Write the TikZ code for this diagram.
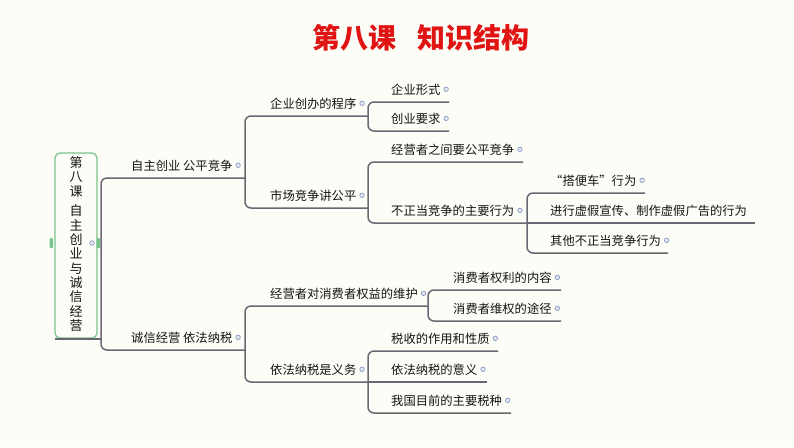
\documentclass[tikz,border=0pt]{standalone}
\usepackage{fontspec}
\setmainfont{Noto Sans CJK SC}
\usetikzlibrary{calc}
\definecolor{bg}{RGB}{253,253,247}
\definecolor{ln}{RGB}{104,104,116}
\definecolor{tx}{RGB}{20,20,20}
\definecolor{ttl}{RGB}{225,20,20}
\definecolor{grn}{RGB}{120,196,140}
\definecolor{cir}{RGB}{130,145,190}
\definecolor{cirf}{RGB}{225,230,242}
\tikzset{
  conn/.style={draw=ln, line width=1.5pt, rounded corners=6pt},
  tp/.style={anchor=base west, inner sep=0pt, text=tx, font=\fontsize{12.3}{14}\selectfont},
  dot/.style={label={[circle, draw=cir, fill=cirf, line width=0.6pt, inner sep=0pt, minimum size=4.5pt, label distance=3pt]right:{}}},
}
\newcommand{\topic}[6][]{%
  \node[tp,#1] (#2) at (#3,#4-8) {#6};
  \coordinate (#2r) at (#5,#4);
}
\begin{document}
\begin{tikzpicture}[x=1pt,y=-1pt]
\fill[bg] (0,0) rectangle (794,447);
\useasboundingbox (0,0) rectangle (794,447);

\node[font=\fontsize{28}{32}\selectfont\bfseries, text=ttl, inner sep=0pt] (title) at (421,38) {第八课\hspace{0.75em}知识结构};

% root
\draw[grn, line width=1.2pt, rounded corners=5pt, fill=bg] (55,153) rectangle (97,338);
\node[align=center, inner sep=0pt, text=tx, font=\fontsize{13}{14.3}\selectfont] (root) at (76,244)
  {第\\八\\课\\[5.5pt]自\\主\\创\\业\\与\\诚\\信\\经\\营};
\coordinate (rootr) at (101,339);
\draw[ln, line width=1.5pt] (55,339) -- (rootr);
\fill[grn, rounded corners=1pt] (49.5,238) rectangle (53,248);
\fill[grn, rounded corners=1pt] (96.5,238) rectangle (100,248);
\draw[cir, fill=cirf, line width=0.6pt] (92,243) circle (2.3pt);

% level 1
\topic[dot]{A}{131}{178}{245}{自主创业 公平竞争}
\topic[dot]{B}{131}{350}{245}{诚信经营 依法纳税}
% level 2
\topic[dot]{A1}{270}{116}{368}{企业创办的程序}
\topic[dot]{A2}{270}{208}{368}{市场竞争讲公平}
\topic[dot]{B1}{270}{306}{428}{经营者对消费者权益的维护}
\topic[dot]{B2}{270}{382}{368}{依法纳税是义务}
% level 3
\topic[dot]{A11}{391}{102}{449}{企业形式}
\topic[dot]{A12}{391}{131}{449}{创业要求}
\topic[dot]{A21}{391}{162}{523}{经营者之间要公平竞争}
\topic[dot]{A22}{391}{223}{527}{不正当竞争的主要行为}
\topic[dot]{A221}{550}{193}{645}{“搭便车”行为}
\topic{A222}{550}{223}{755}{进行虚假宣传、制作虚假广告的行为}
\topic[dot]{A223}{550}{253}{668}{其他不正当竞争行为}
\topic[dot]{B11}{453}{290}{561}{消费者权利的内容}
\topic[dot]{B12}{453}{321}{561}{消费者维权的途径}
\topic[dot]{B21}{391}{351}{498}{税收的作用和性质}
\topic[dot]{B22}{391}{382}{487}{依法纳税的意义}
\topic[dot]{B23}{391}{413}{511}{我国目前的主要税种}

% connectors
\draw[conn] (Ar) -- (Ar -| rootr) -- (Br -| rootr) -- (Br);
\draw[conn] (A1r) -- (A1r -| Ar) -- (A2r -| Ar) -- (A2r);
\draw[conn] (B1r) -- (B1r -| Br) -- (B2r -| Br) -- (B2r);
\draw[conn] (A11r) -- (A11r -| A1r) -- (A12r -| A1r) -- (A12r);
\draw[conn] (A21r) -- (A21r -| A2r) -- (A22r -| A2r) -- (A22r);
\draw[conn] (A221r) -- (A221r -| A22r) -- (A223r -| A22r) -- (A223r);
\draw[conn] (A22r) -- (A222r);
\draw[conn] (B11r) -- (B11r -| B1r) -- (B12r -| B1r) -- (B12r);
\draw[conn] (B21r) -- (B21r -| B2r) -- (B23r -| B2r) -- (B23r);
\draw[conn] (B2r) -- (B22r);
\end{tikzpicture}
\end{document}
